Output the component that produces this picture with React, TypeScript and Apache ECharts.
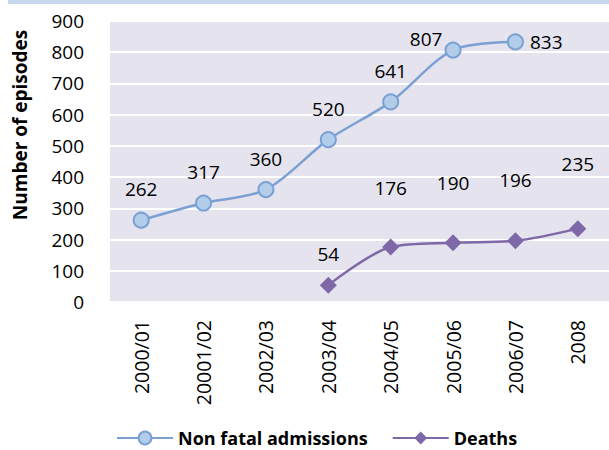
import React, { useEffect, useRef } from "react";
import * as echarts from "echarts";

const categories = ["2000/01", "20001/02", "2002/03", "2003/04", "2004/05", "2005/06", "2006/07", "2008"];
const nonFatal: (number | null)[] = [262, 317, 360, 520, 641, 807, 833, null];
const deaths: (number | null)[] = [null, null, null, 54, 176, 190, 196, 235];
const yTicks = { min: 0, max: 900, interval: 100 };

const FONT = "'Open Sans', 'Noto Sans', sans-serif";
const BLUE_LINE = "#7aa0d4";
const BLUE_FILL = "#b1cdea";
const PURPLE = "#7f68a8";

export default function App() {
  const ref = useRef<HTMLDivElement>(null);
  useEffect(() => {
    const chart = echarts.init(ref.current!, null, { renderer: "svg" });
    const nfData = nonFatal.map((v, i) => {
      if (v === null) return null;
      if (i === 5) return { value: v, label: { position: "top", offset: [-27, 20] } };
      if (i === 6) return { value: v, label: { position: "right", distance: 6 } };
      return v;
    });
    const dOffsets: Record<number, number> = { 3: 0, 4: -28, 5: -29, 6: -30, 7: -34 };
    const dData = deaths.map((v, i) => {
      if (v === null) return null;
      return { value: v, label: { offset: [0, dOffsets[i] ?? 0] } };
    });
    chart.setOption({
      animation: false,
      textStyle: { fontFamily: FONT },
      grid: {
        left: 110,
        right: 0,
        top: 21,
        bottom: 148,
        show: true,
        backgroundColor: "#e4e3ee",
        borderWidth: 0,
      },
      graphic: [
        { type: "rect", shape: { x: 8, y: 0, width: 601, height: 4 }, style: { fill: "#c6d9ef" } },
        {
          type: "text",
          x: 20,
          y: 125,
          rotation: Math.PI / 2,
          style: {
            text: "Number of episodes",
            font: `bold 19px ${FONT}`,
            fill: "#000",
            align: "center",
            verticalAlign: "middle",
          },
        },
      ],
      legend: {
        top: 423,
        left: 111,
        itemWidth: 56,
        itemHeight: 16,
        itemGap: 24,
        textStyle: { fontFamily: FONT, fontSize: 18, fontWeight: "bold", color: "#000", lineHeight: 20 },
        data: ["Non fatal admissions", "Deaths"],
      },
      xAxis: {
        type: "category",
        data: categories,
        axisLine: { show: false },
        axisTick: { show: false },
        axisLabel: { rotate: 90, fontSize: 19.5, color: "#000", margin: 18, fontFamily: FONT, interval: 0 },
      },
      yAxis: {
        type: "value",
        min: yTicks.min,
        max: yTicks.max,
        interval: yTicks.interval,
        axisLine: { show: false },
        axisTick: { show: false },
        axisLabel: { fontSize: 19, color: "#000", margin: 26, fontFamily: FONT },
        splitLine: { lineStyle: { color: "#ffffff", width: 2 } },
      },
      series: [
        {
          name: "Non fatal admissions",
          type: "line",
          data: nfData,
          smooth: 0.3,
          symbol: "circle",
          symbolSize: 15,
          lineStyle: { color: BLUE_LINE, width: 2.5 },
          itemStyle: { color: BLUE_FILL, borderColor: BLUE_LINE, borderWidth: 2 },
          label: { show: true, position: "top", distance: 13, fontSize: 19, color: "#000", fontFamily: FONT },
        },
        {
          name: "Deaths",
          type: "line",
          data: dData,
          smooth: 0.3,
          symbol: "diamond",
          symbolSize: 17,
          lineStyle: { color: PURPLE, width: 2.5 },
          itemStyle: { color: PURPLE },
          label: { show: true, position: "top", distance: 13, fontSize: 19, color: "#000", fontFamily: FONT },
        },
      ],
    });
    return () => chart.dispose();
  }, []);
  return <div ref={ref} style={{ position: "fixed", left: 0, top: 0, width: 609, height: 450, background: "#fff" }} />;
}
